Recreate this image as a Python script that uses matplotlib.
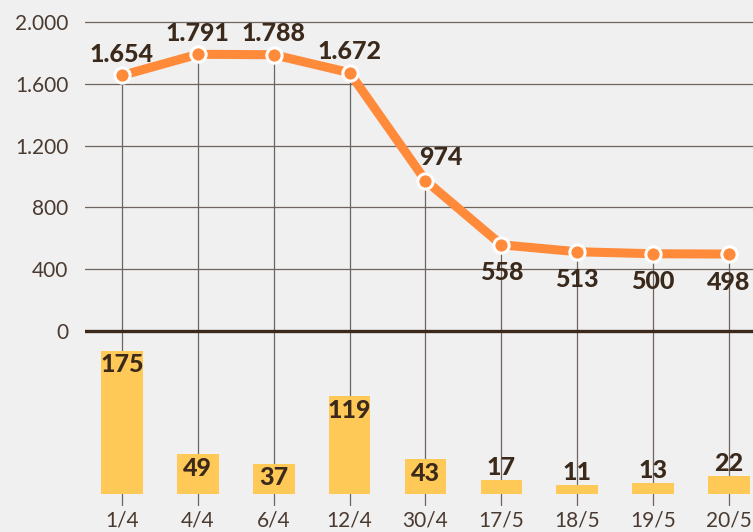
import matplotlib
matplotlib.use("Agg")
import matplotlib.pyplot as plt
from matplotlib.ticker import FuncFormatter

categories = ["1/4", "4/4", "6/4", "12/4", "30/4", "17/5", "18/5", "19/5", "20/5"]
line_values = [1654, 1791, 1788, 1672, 974, 558, 513, 500, 498]
bar_values = [175, 49, 37, 119, 43, 17, 11, 13, 22]
y_ticks = [0, 400, 800, 1200, 1600, 2000]

BG = "#f0f0f0"
ORANGE = "#ff8a3a"
YELLOW = "#ffc957"
DARK = "#3b2a1c"
GRID = "#6e6560"

plt.rcParams['font.family'] = ['Lato', 'DejaVu Sans']

W, H = 753, 532
fig = plt.figure(figsize=(W / 100, H / 100), dpi=100, facecolor=BG)

x = list(range(len(categories)))
left = 85 / W
width = (W - 85) / W
px_per_unit = 309 / 2000.0
ylo = -(506 - 331) / px_per_unit
yhi = 2000 + 22 / px_per_unit

ax = fig.add_axes([left, 26 / H, width, (H - 26) / H])
ax.set_facecolor("none")
ax.set_xlim(-0.487, 8.316)
ax.set_ylim(ylo, yhi)
for s in ax.spines.values():
    s.set_visible(False)

# gridlines
for t in y_ticks[1:]:
    ax.axhline(t, color=GRID, lw=0.9, zorder=1)
ax.axhline(0, color=DARK, lw=2.4, zorder=3)

# vertical drop lines
for xi, v in zip(x, line_values):
    ax.plot([xi, xi], [ylo, v], color=GRID, lw=0.9, zorder=1, solid_capstyle='butt')

ax.plot(x, line_values, color=ORANGE, lw=6.5, zorder=5, solid_capstyle='round',
        marker='o', markersize=11, markerfacecolor=ORANGE, markeredgecolor='white',
        markeredgewidth=2.2)

ax.set_yticks(y_ticks)
ax.yaxis.set_major_formatter(FuncFormatter(lambda v, p: f"{int(v):,}".replace(",", ".")))
ax.set_xticks(x)
ax.set_xticklabels(categories)
ax.tick_params(axis='both', length=0, labelsize=15, labelcolor="#4a3a30")
ax.tick_params(axis='y', pad=12)
ax.tick_params(axis='x', pad=3)
for lab in ax.get_xticklabels() + ax.get_yticklabels():
    lab.set_fontweight('normal')

LBL = dict(fontsize=18, fontweight='black', color=DARK)

# line labels
for i, (xi, v) in enumerate(zip(x, line_values)):
    txt = f"{v:,}".replace(",", ".")
    if i <= 3:
        ax.annotate(txt, (xi, v), xytext=(0, 7), textcoords='offset points',
                    ha='center', va='bottom', zorder=6, **LBL)
    elif i == 4:
        ax.annotate(txt, (xi, v), xytext=(11, 8), textcoords='offset points',
                    ha='center', va='bottom', zorder=6, **LBL)
    else:
        ax.annotate(txt, (xi, v), xytext=(0, -12), textcoords='offset points',
                    ha='center', va='top', zorder=6, **LBL)

# bars
bax = fig.add_axes([left, (H - 494) / H, width, (494 - 331) / H], sharex=ax)
bax.set_facecolor("none")
bax.set_ylim(0, 163 / 0.82)
bax.axis('off')
bax.bar(x, bar_values, width=0.55, color=YELLOW, zorder=2)
for xi, v in zip(x, bar_values):
    if v * 0.82 > 25:
        bax.annotate(str(v), (xi, v), xytext=(0, -2), textcoords='offset points',
                     ha='center', va='top', **LBL)
    else:
        bax.annotate(str(v), (xi, v), xytext=(0, 1), textcoords='offset points',
                     ha='center', va='bottom', **LBL)

fig.savefig("out.png", dpi=100, facecolor=BG)
